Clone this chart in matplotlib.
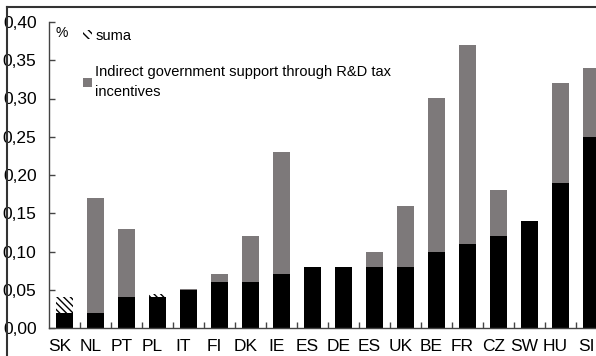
import matplotlib
matplotlib.use("Agg")
import matplotlib.pyplot as plt
import matplotlib.transforms as mtrans
from matplotlib.patches import Patch
from matplotlib.lines import Line2D
from matplotlib.ticker import FixedLocator, FuncFormatter
import numpy as np

countries = ["SK", "NL", "PT", "PL", "IT", "FI", "DK", "IE", "ES", "DE",
             "ES", "UK", "BE", "FR", "CZ", "SW", "HU", "SI"]
direct = [0.02, 0.02, 0.04, 0.04, 0.05, 0.06, 0.06, 0.07, 0.08, 0.08,
          0.08, 0.08, 0.10, 0.11, 0.12, 0.14, 0.19, 0.25]
indirect = [0.0, 0.15, 0.09, 0.0, 0.001, 0.01, 0.06, 0.16, 0.0, 0.0,
            0.02, 0.08, 0.20, 0.26, 0.06, 0.0, 0.13, 0.09]
suma = [0.02, 0.0, 0.0, 0.005, 0.0, 0.0, 0.0, 0.0, 0.0, 0.0,
        0.0, 0.0, 0.0, 0.0, 0.0, 0.0, 0.0, 0.0]
yticks = [0.00, 0.05, 0.10, 0.15, 0.20, 0.25, 0.30, 0.35, 0.40]

FONT = ["Liberation Sans", "DejaVu Sans"]
plt.rcParams["font.family"] = FONT
plt.rcParams["hatch.linewidth"] = 1.0

W, H = 596, 356
fig = plt.figure(figsize=(W / 100, H / 100), dpi=100)
ax = fig.add_axes([49 / W, (H - 328) / H, 558 / W, 306 / H])

x = np.arange(len(countries))
bw = 0.56
GREY = "#7d797a"
ax.bar(x, direct, bw, color="black", zorder=2)
ax.bar(x, indirect, bw, bottom=direct, color=GREY, zorder=2)
ax.bar(x, suma, bw, bottom=direct, facecolor="white", edgecolor="black",
       hatch="\\\\\\\\\\", linewidth=0, zorder=2)

ax.set_xlim(-0.5, len(countries) - 0.5)
ax.set_ylim(0, 0.40)
ax.set_yticks(yticks)
ax.yaxis.set_major_formatter(FuncFormatter(lambda v, p: f"{v:.2f}".replace(".", ",")))
ax.tick_params(axis="y", direction="in", length=4, width=1, color="#444444",
               labelsize=12.5, pad=9)
ax.set_xticks(x)
ax.set_xticklabels(countries)
ax.tick_params(axis="x", which="major", length=0, labelsize=12.5, pad=8)
ax.xaxis.set_minor_locator(FixedLocator(np.arange(0.5, len(countries) - 0.5, 1)))
ax.tick_params(axis="x", which="minor", direction="in", length=4, width=1, color="#444444")
shift = mtrans.ScaledTranslation(-5 / 100, 0, fig.dpi_scale_trans)
for lab in ax.get_xticklabels():
    lab.set_transform(lab.get_transform() + shift)

for s in ["top", "right"]:
    ax.spines[s].set_visible(False)
for s in ["left", "bottom"]:
    ax.spines[s].set_color("#444444")
    ax.spines[s].set_linewidth(1.0)

ax.text(0.012, 0.965, "%", transform=ax.transAxes, fontsize=10, va="center", ha="left")

handles = [Patch(facecolor="white", edgecolor="black", hatch="\\\\\\\\", linewidth=0),
           Patch(facecolor=GREY, edgecolor="none")]
labels = ["suma", "Indirect government support through R&D tax\nincentives"]
leg = ax.legend(handles, labels, loc="upper left", bbox_to_anchor=(28 / 558, 1.0 - 1 / 306),
                frameon=False, fontsize=10.5, handlelength=0.6, handleheight=0.6,
                handletextpad=0.25, labelspacing=1.5, borderaxespad=0)
for t in leg.get_texts():
    t.set_linespacing(1.6)

# outer frame (top and left edges)
fig.add_artist(Line2D([7 / W, 1.0], [1 - 7 / H, 1 - 7 / H], transform=fig.transFigure,
                      color="#333333", linewidth=1.5))
fig.add_artist(Line2D([7 / W, 7 / W], [0, 1 - 7 / H], transform=fig.transFigure,
                      color="#333333", linewidth=1.5))

fig.savefig("out.png", dpi=100)
